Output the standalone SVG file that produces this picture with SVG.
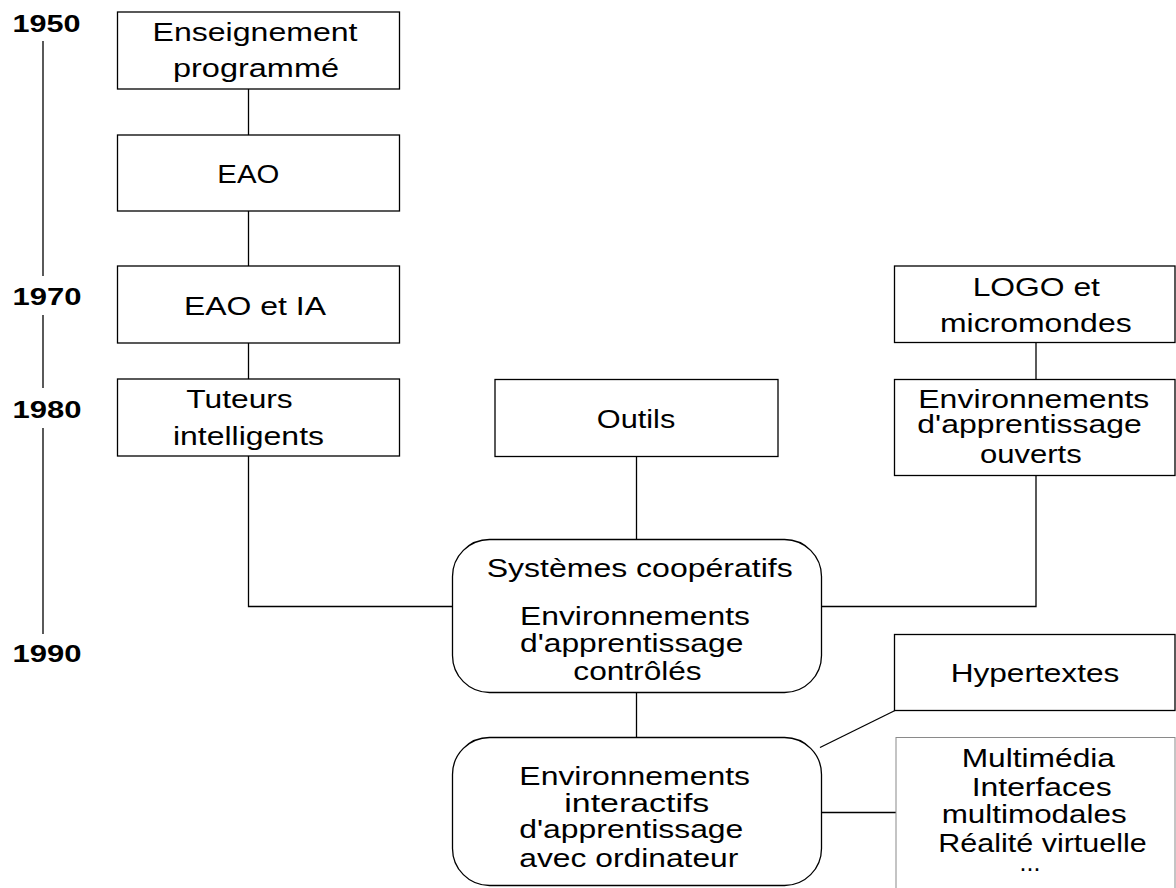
<svg xmlns="http://www.w3.org/2000/svg" width="1176" height="888" viewBox="0 0 1176 888">
<style>
  .box { fill: #fff; stroke: #000; stroke-width: 1.3; }
  .light { fill: #fff; stroke: #8a8a8a; stroke-width: 1; }
  .t { font-family: "Liberation Sans", Arial, sans-serif; font-size: 25px; fill: #000; text-anchor: middle; }
  .yr { font-family: "Liberation Sans", Arial, sans-serif; font-size: 24px; font-weight: bold; fill: #000; }
  .ln { fill: none; stroke: #000; stroke-width: 1.3; }
</style>
<rect width="1176" height="888" fill="#fff"/>

<g id="timeline">
  <line class="ln" x1="43" y1="41" x2="43" y2="276"/>
  <line class="ln" x1="43" y1="315" x2="43" y2="388"/>
  <line class="ln" x1="43" y1="428" x2="43" y2="634"/>
  <text class="yr" x="12.5" y="32" textLength="68" lengthAdjust="spacingAndGlyphs">1950</text>
  <text class="yr" x="12.5" y="305" textLength="69" lengthAdjust="spacingAndGlyphs">1970</text>
  <text class="yr" x="12.5" y="418" textLength="69" lengthAdjust="spacingAndGlyphs">1980</text>
  <text class="yr" x="12.5" y="662" textLength="69" lengthAdjust="spacingAndGlyphs">1990</text>
</g>

<g id="connectors">
  <line class="ln" x1="248.5" y1="89" x2="248.5" y2="135"/>
  <line class="ln" x1="248.5" y1="211" x2="248.5" y2="266"/>
  <line class="ln" x1="248.5" y1="343" x2="248.5" y2="379"/>
  <polyline class="ln" points="248.5,456 248.5,606.5 452.5,606.5"/>
  <line class="ln" x1="636.5" y1="456.5" x2="636.5" y2="539.5"/>
  <line class="ln" x1="1036" y1="342.5" x2="1036" y2="379.5"/>
  <polyline class="ln" points="1036,475.5 1036,606.5 821.5,606.5"/>
  <line class="ln" x1="636.5" y1="692.5" x2="636.5" y2="737.5"/>
  <line class="ln" x1="895" y1="710.5" x2="820" y2="747.5"/>
  <line class="ln" x1="821" y1="812.5" x2="896" y2="812.5"/>
</g>

<g id="enseignement">
  <rect class="box" x="117.5" y="12" width="282" height="77"/>
  <text class="t" x="255" y="40.5" textLength="205" lengthAdjust="spacingAndGlyphs">Enseignement</text>
  <text class="t" x="256" y="76.5" textLength="166" lengthAdjust="spacingAndGlyphs">programmé</text>
</g>

<g id="eao">
  <rect class="box" x="117.5" y="135" width="282" height="76"/>
  <text class="t" x="248.3" y="183.3" textLength="62" lengthAdjust="spacingAndGlyphs">EAO</text>
</g>

<g id="eao-ia">
  <rect class="box" x="117.5" y="266" width="282" height="77"/>
  <text class="t" x="255" y="315" textLength="142" lengthAdjust="spacingAndGlyphs">EAO et IA</text>
</g>

<g id="tuteurs">
  <rect class="box" x="117.5" y="379" width="282" height="77"/>
  <text class="t" x="239.5" y="408.3" textLength="106.5" lengthAdjust="spacingAndGlyphs">Tuteurs</text>
  <text class="t" x="248.5" y="444.5" textLength="151" lengthAdjust="spacingAndGlyphs">intelligents</text>
</g>

<g id="outils">
  <rect class="box" x="495" y="379.5" width="283" height="77"/>
  <text class="t" x="636" y="428.3" textLength="78.5" lengthAdjust="spacingAndGlyphs">Outils</text>
</g>

<g id="logo">
  <rect class="box" x="894.5" y="266" width="280.5" height="76.5"/>
  <text class="t" x="1036.3" y="296" textLength="127.3" lengthAdjust="spacingAndGlyphs">LOGO et</text>
  <text class="t" x="1035.8" y="331.7" textLength="191.7" lengthAdjust="spacingAndGlyphs">micromondes</text>
</g>

<g id="env-ouverts">
  <rect class="box" x="894.5" y="379.5" width="280.5" height="96"/>
  <text class="t" x="1033.8" y="408.3" textLength="231" lengthAdjust="spacingAndGlyphs">Environnements</text>
  <text class="t" x="1029.5" y="433.3" textLength="224.3" lengthAdjust="spacingAndGlyphs">d'apprentissage</text>
  <text class="t" x="1030.8" y="463.3" textLength="101.7" lengthAdjust="spacingAndGlyphs">ouverts</text>
</g>

<g id="cooperatifs">
  <rect class="box" x="452.5" y="539.5" width="369" height="153" rx="37" ry="37"/>
  <text class="t" x="639.7" y="576.7" textLength="306" lengthAdjust="spacingAndGlyphs">Systèmes coopératifs</text>
  <text class="t" x="635" y="625" textLength="230" lengthAdjust="spacingAndGlyphs">Environnements</text>
  <text class="t" x="631.7" y="651.7" textLength="223.3" lengthAdjust="spacingAndGlyphs">d'apprentissage</text>
  <text class="t" x="637.5" y="680" textLength="128.3" lengthAdjust="spacingAndGlyphs">contrôlés</text>
</g>

<g id="hypertextes">
  <rect class="box" x="894.5" y="634.5" width="280.5" height="76"/>
  <text class="t" x="1035" y="682.3" textLength="168.7" lengthAdjust="spacingAndGlyphs">Hypertextes</text>
</g>

<g id="interactifs">
  <rect class="box" x="452.5" y="737.5" width="369" height="148" rx="37" ry="37"/>
  <text class="t" x="634.7" y="785" textLength="230.7" lengthAdjust="spacingAndGlyphs">Environnements</text>
  <text class="t" x="636.8" y="811.7" textLength="145" lengthAdjust="spacingAndGlyphs">interactifs</text>
  <text class="t" x="631.3" y="838.3" textLength="224" lengthAdjust="spacingAndGlyphs">d'apprentissage</text>
  <text class="t" x="628.8" y="866.7" textLength="219" lengthAdjust="spacingAndGlyphs">avec ordinateur</text>
</g>

<g id="multimedia">
  <rect class="light" x="896" y="737.5" width="279" height="170"/>
  <text class="t" x="1038.3" y="766.7" textLength="153.3" lengthAdjust="spacingAndGlyphs">Multimédia</text>
  <text class="t" x="1041.7" y="795.7" textLength="140" lengthAdjust="spacingAndGlyphs">Interfaces</text>
  <text class="t" x="1034.2" y="823.3" textLength="185" lengthAdjust="spacingAndGlyphs">multimodales</text>
  <text class="t" x="1042.5" y="851.7" textLength="208.3" lengthAdjust="spacingAndGlyphs">Réalité virtuelle</text>
  <text class="t" x="1030" y="871">...</text>
</g>
</svg>
